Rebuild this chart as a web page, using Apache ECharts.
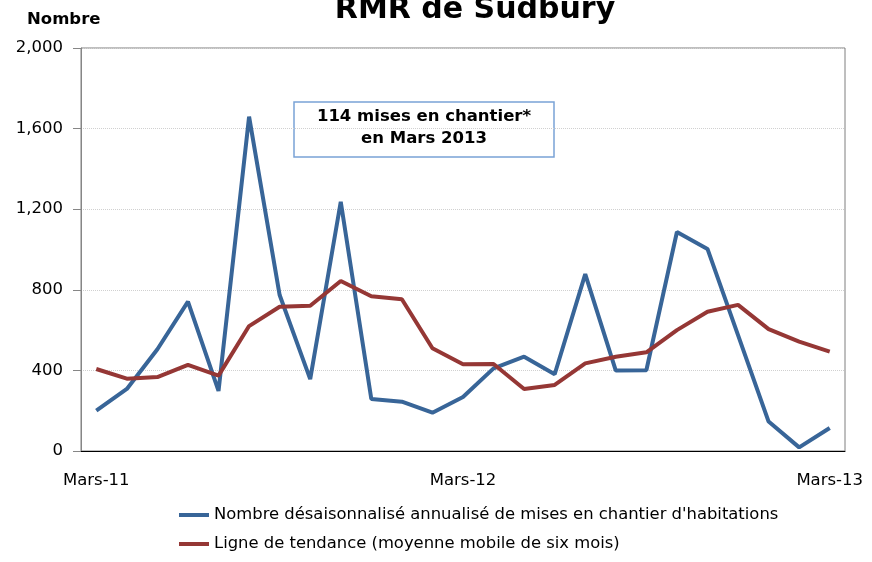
<!DOCTYPE html>
<html>
<head>
<meta charset="utf-8">
<style>
    html, body { margin: 0; padding: 0; background: #fff; }
    #chart { width: 872px; height: 562px; }
</style>
<script src="https://cdn.jsdelivr.net/npm/echarts@6/dist/echarts.min.js"></script>
</head>
<body>
<div id="chart"></div>
<script>
const months = [
    "Mars-11", "Avr-11", "Mai-11", "Juin-11", "Juil-11", "Août-11", "Sept-11", "Oct-11", "Nov-11", "Déc-11", "Janv-12", "Févr-12",
    "Mars-12", "Avr-12", "Mai-12", "Juin-12", "Juil-12", "Août-12", "Sept-12", "Oct-12", "Nov-12", "Déc-12", "Janv-13", "Févr-13",
    "Mars-13"
];
const mises = [200, 308, 505, 741, 298, 1659, 774, 357, 1237, 258, 245, 190, 268, 410, 468, 381, 878, 399, 401, 1087, 1003, 575, 146, 18, 114];
const tendance = [407, 359, 367, 427, 374, 620, 716, 721, 844, 768, 753, 510, 430, 432, 308, 328, 435, 468, 490, 600, 691, 725, 605, 543, 493];
const seriesNames = [
    "Nombre désaisonnalisé annualisé de mises en chantier d'habitations",
    "Ligne de tendance (moyenne mobile de six mois)"
];

const font = "DejaVu Sans";
const textColor = "#000";

let chart = echarts.init(document.getElementById("chart"), null, { renderer: "canvas" });

let option = {
    animation: false,
    color: ["#386598", "#953735"],
    title: {
        text: "RMR de Sudbury",
        left: 470,
        textAlign: "center",
        top: -10,
        textStyle: { fontFamily: font, fontSize: 30, fontWeight: "bold", color: textColor },
    },
    grid: {
        left: 81, right: 27, top: 48, bottom: 111,
        show: true, borderColor: "#7f7f7f", borderWidth: 1,
    },
    legend: {
        orient: "vertical",
        left: 174,
        top: 502,
        itemGap: 13,
        itemWidth: 30,
        itemHeight: 4,
        icon: "rect",
        textStyle: { fontFamily: font, fontSize: 16.4, color: textColor },
        data: seriesNames,
    },
    xAxis: {
        type: "category",
        data: months,
        boundaryGap: true,
        axisLine: { lineStyle: { color: "#000", width: 1 } },
        axisTick: { interval: 11, length: 6, lineStyle: { color: "#7f7f7f" } },
        axisLabel: { interval: 11, margin: 21, fontFamily: font, fontSize: 16.5, color: textColor },
        splitLine: { show: false },
    },
    yAxis: {
        type: "value",
        min: 0, max: 2000, interval: 400,
        axisLine: { show: true, lineStyle: { color: "#868686" } },
        axisTick: { show: true, length: 8, lineStyle: { color: "#868686" } },
        axisLabel: {
            margin: 18, fontFamily: font, fontSize: 16.5, color: textColor,
            formatter: (v) => v.toLocaleString("en-US"),
        },
        splitLine: { lineStyle: { color: "#d0d0d0", type: "dotted", width: 1 } },
    },
    graphic: [
        {
            type: "text", left: 27, top: 11,
            style: { text: "Nombre", fontFamily: font, fontSize: 16.5, fontWeight: "bold", fill: textColor },
        },
        {
            type: "rect",
            shape: { x: 294, y: 102, width: 260, height: 55 },
            style: { fill: "#fff", stroke: "#7aa3d6", lineWidth: 1.5 },
        },
        {
            type: "text", x: 424, y: 128,
            style: {
                text: "114 mises en chantier*\nen Mars 2013",
                align: "center", verticalAlign: "middle",
                lineHeight: 22,
                fontFamily: font, fontSize: 16.5, fontWeight: "bold", fill: textColor,
            },
        },
    ],
    series: [
        {
            name: seriesNames[0],
            type: "line",
            data: mises,
            showSymbol: false,
            symbol: "none",
            lineStyle: { width: 4 },
        },
        {
            name: seriesNames[1],
            type: "line",
            data: tendance,
            showSymbol: false,
            symbol: "none",
            lineStyle: { width: 4 },
        },
    ],
};

chart.setOption(option);
</script>
</body>
</html>
